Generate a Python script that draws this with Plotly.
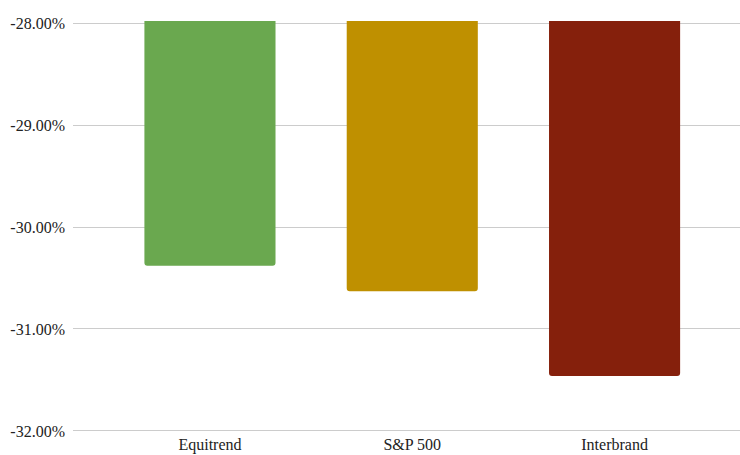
import plotly.graph_objects as go

categories = ["Equitrend", "S&P 500", "Interbrand"]
values = [-0.3038, -0.3063, -0.3146]
colors = ["#6aa84f", "#bf9000", "#85200c"]
tick_vals = [-0.28, -0.29, -0.30, -0.31, -0.32]
tick_text = ["-28.00%", "-29.00%", "-30.00%", "-31.00%", "-32.00%"]

fig = go.Figure(go.Bar(
    x=list(range(len(categories))),
    y=values,
    marker=dict(color=colors, cornerradius=3, line=dict(width=0)),
    width=0.648,
))

font = dict(family="Liberation Serif", size=16, color="#222222")
fig.update_layout(
    width=740, height=455,
    margin=dict(l=73, r=0, t=21, b=22),
    paper_bgcolor="white", plot_bgcolor="white",
    showlegend=False,
    font=font,
)
fig.update_xaxes(
    tickvals=list(range(len(categories))), ticktext=categories,
    range=[-0.677, 2.62], showgrid=False, zeroline=False, showline=False,
    ticks="", ticklen=0, tickfont=font, ticklabelstandoff=0, automargin=False,
)
fig.update_yaxes(
    range=[-0.3202, -0.2798], tickvals=tick_vals, ticktext=tick_text,
    showgrid=True, gridcolor="#cccccc", gridwidth=1, zeroline=False,
    showline=False, ticks="", ticklabelstandoff=7, tickfont=font, automargin=False,
)
fig.write_html("out.html")
